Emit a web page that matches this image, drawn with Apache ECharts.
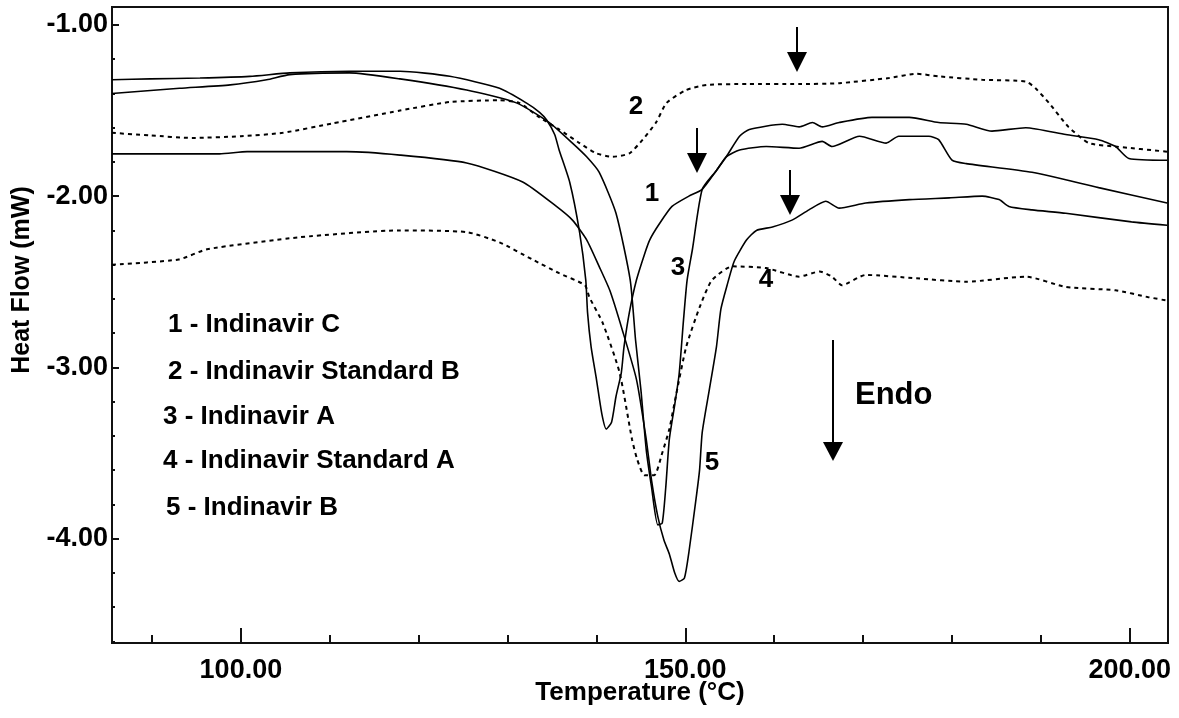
<!DOCTYPE html>
<html>
<head>
<meta charset="utf-8">
<script src="https://cdn.jsdelivr.net/npm/echarts@6.0.0/dist/echarts.min.js"></script>
<style>
html, body { margin: 0; padding: 0; background: #fff; }
#chart { width: 1179px; height: 718px; }
</style>
</head>
<body>
<div id="chart"></div>
<script>
// [temperature (°C), heat flow (mW)]
var indinavirC = [
    [85.5, -1.32], [89.8, -1.315], [95.4, -1.31], [101.0, -1.30], [105.5, -1.28], [112.2, -1.27],
    [117.9, -1.27], [123.5, -1.30], [129.1, -1.37], [132.1, -1.455], [133.6, -1.51], [134.4, -1.555],
    [135.3, -1.64], [135.8, -1.73], [137.0, -1.92], [138.1, -2.21], [138.8, -2.49], [139.0, -2.68],
    [139.4, -2.88], [140.0, -3.07], [140.6, -3.27], [141.1, -3.36], [141.7, -3.32], [142.2, -3.17],
    [142.8, -3.03], [143.1, -2.88], [143.7, -2.68], [144.5, -2.49], [145.4, -2.34], [146.0, -2.255],
    [147.1, -2.16], [148.5, -2.06], [150.4, -2.00], [151.9, -1.96], [153.5, -1.85], [154.6, -1.77],
    [156.1, -1.73], [159.1, -1.71], [162.8, -1.72], [165.4, -1.68], [166.5, -1.71], [169.6, -1.65],
    [172.6, -1.69], [174.0, -1.65], [177.4, -1.65], [178.5, -1.67], [180.0, -1.79], [181.6, -1.81],
    [189.0, -1.86], [196.5, -1.95], [204.2, -2.04]
];
var indinavirStdB = [
    [85.5, -1.63], [89.8, -1.645], [94.5, -1.66], [100.0, -1.65], [104.7, -1.63], [110.3, -1.575],
    [117.9, -1.50], [123.5, -1.45], [129.1, -1.44], [131.3, -1.455], [133.6, -1.54], [135.8, -1.61],
    [138.1, -1.69], [140.0, -1.75], [141.8, -1.77], [143.7, -1.75], [145.2, -1.67], [146.7, -1.57],
    [147.9, -1.455], [150.1, -1.38], [152.4, -1.35], [157.0, -1.345], [162.8, -1.345], [167.3, -1.34],
    [172.9, -1.31], [176.0, -1.285], [178.5, -1.30], [183.4, -1.32], [188.3, -1.33], [189.4, -1.37],
    [190.9, -1.455], [193.1, -1.595], [195.4, -1.69], [198.4, -1.71], [204.2, -1.74]
];
var indinavirA = [
    [85.5, -1.40], [93.1, -1.37], [98.8, -1.35], [102.9, -1.32], [105.5, -1.29], [112.2, -1.28],
    [117.9, -1.315], [125.4, -1.38], [131.0, -1.455], [134.7, -1.57], [137.3, -1.69], [138.9, -1.77],
    [140.3, -1.86], [142.2, -2.10], [143.8, -2.49], [144.4, -2.84], [145.0, -3.13], [145.6, -3.48],
    [146.2, -3.70], [146.9, -3.92], [147.4, -3.91], [147.8, -3.70], [148.2, -3.42], [148.8, -3.22],
    [149.3, -3.04], [149.8, -2.72], [150.2, -2.49], [150.8, -2.31], [151.9, -1.96], [153.5, -1.85],
    [154.6, -1.77], [156.1, -1.65], [157.2, -1.61], [160.9, -1.58], [162.8, -1.595], [164.3, -1.57],
    [165.4, -1.595], [167.3, -1.57], [171.0, -1.54], [175.2, -1.54], [178.5, -1.57], [181.6, -1.58],
    [184.5, -1.62], [188.3, -1.60], [192.8, -1.64], [196.5, -1.67], [198.4, -1.71], [199.9, -1.78],
    [204.2, -1.79]
];
var indinavirStdA = [
    [85.5, -2.40], [93.0, -2.37], [96.2, -2.31], [106.6, -2.24], [117.9, -2.20], [125.4, -2.21],
    [129.1, -2.27], [132.8, -2.37], [135.8, -2.45], [138.7, -2.52], [139.2, -2.59], [140.7, -2.74],
    [142.6, -3.03], [144.0, -3.42], [144.6, -3.54], [145.4, -3.63], [146.5, -3.63], [147.4, -3.50],
    [148.2, -3.36], [149.0, -3.15], [150.1, -2.88], [151.6, -2.65], [153.0, -2.49], [155.3, -2.41],
    [159.1, -2.42], [162.8, -2.47], [165.1, -2.44], [166.5, -2.47], [167.6, -2.52], [170.3, -2.46],
    [176.0, -2.48], [181.6, -2.50], [188.3, -2.47], [192.8, -2.53], [198.4, -2.55], [202.1, -2.59],
    [204.2, -2.61]
];
var indinavirB = [
    [85.5, -1.753], [97.6, -1.753], [100.7, -1.74], [111.9, -1.74], [117.9, -1.76], [125.4, -1.806],
    [131.7, -1.917], [135.5, -2.06], [137.3, -2.14], [138.9, -2.255], [140.3, -2.41], [141.5, -2.55],
    [142.9, -2.78], [144.5, -3.07], [145.6, -3.42], [146.2, -3.66], [146.9, -3.87], [147.6, -4.01],
    [148.2, -4.09], [148.8, -4.20], [149.3, -4.25], [149.9, -4.23], [150.4, -4.08], [151.2, -3.77],
    [151.6, -3.60], [151.9, -3.38], [152.7, -3.13], [153.5, -2.88], [154.0, -2.66], [154.7, -2.52],
    [155.5, -2.38], [156.9, -2.255], [158.0, -2.20], [159.8, -2.18], [162.0, -2.14], [163.9, -2.08],
    [165.8, -2.03], [167.3, -2.07], [170.3, -2.04], [175.2, -2.02], [179.7, -2.01], [183.4, -2.00],
    [185.3, -2.02], [186.4, -2.06], [189.0, -2.08], [192.8, -2.10], [200.2, -2.15], [204.2, -2.17]
];

var xTicks = [90, 100, 110, 120, 130, 140, 150, 160, 170, 180, 190, 200];
var xLabels = [100, 150, 200];
var yTicks = [-1.0, -1.2, -1.4, -1.6, -1.8, -2.0, -2.2, -2.4, -2.6, -2.8, -3.0, -3.2, -3.4, -3.6, -3.8, -4.0, -4.2, -4.4, -4.6];
var yLabels = [-1, -2, -3, -4];
var legendLines = [
    '1 - Indinavir C',
    '2 - Indinavir Standard B',
    '3 - Indinavir A',
    '4 - Indinavir Standard A',
    '5 - Indinavir B'
];

var FONT = '"Liberation Sans", Arial, sans-serif';

function arrow(x, yTop, yHead, yTip) {
    return {
        type: 'group',
        children: [
            { type: 'line', shape: { x1: x, y1: yTop, x2: x, y2: yHead + 2 }, style: { stroke: '#000', lineWidth: 2 } },
            { type: 'polygon', shape: { points: [[x - 10, yHead], [x + 10, yHead], [x, yTip]] }, style: { fill: '#000' } }
        ]
    };
}

function label(text, x, y, size, align) {
    return {
        type: 'text',
        x: x,
        y: y,
        style: {
            text: text,
            font: 'bold ' + size + 'px ' + FONT,
            fill: '#000',
            align: align || 'left',
            verticalAlign: 'middle'
        }
    };
}

var chart = echarts.init(document.getElementById('chart'));

var legendX = [168, 168, 163, 163, 166];
var legendY = [325, 372, 417, 461, 508];
var graphics = legendLines.map(function (t, i) {
    return label(t, legendX[i], legendY[i], 26);
});
graphics.push(label('1', 652, 194, 26, 'center'));
graphics.push(label('2', 636, 107, 26, 'center'));
graphics.push(label('3', 678, 268, 26, 'center'));
graphics.push(label('4', 766, 280, 26, 'center'));
graphics.push(label('5', 712, 463, 26, 'center'));
graphics.push(label('Endo', 855, 395, 31));
graphics.push(arrow(797, 27, 52, 72));
graphics.push(arrow(697, 128, 153, 173));
graphics.push(arrow(790, 170, 195, 215));
graphics.push(arrow(833, 340, 442, 461));
graphics.push({
    type: 'text',
    x: 22,
    y: 280,
    rotation: Math.PI / 2,
    style: {
        text: 'Heat Flow (mW)',
        font: 'bold 25px ' + FONT,
        fill: '#000',
        align: 'center',
        verticalAlign: 'middle'
    }
});
graphics.push(label('Temperature (°C)', 640, 693, 26, 'center'));

function makeSeries(name, data, dotted) {
    return {
        name: name,
        type: 'line',
        data: data,
        showSymbol: false,
        smooth: 0.2,
        xAxisIndex: 0,
        yAxisIndex: 0,
        lineStyle: {
            color: '#000',
            width: dotted ? 2 : 1.6,
            type: dotted ? [4, 4] : 'solid'
        }
    };
}

chart.setOption({
    animation: false,
    backgroundColor: '#fff',
    grid: {
        left: 112, right: 11, top: 7, bottom: 75,
        show: true,
        borderColor: '#111',
        borderWidth: 2
    },
    xAxis: [
        {
            type: 'value',
            min: 85.5,
            max: 204.3,
            position: 'bottom',
            axisLine: { lineStyle: { color: '#111', width: 2 } },
            axisTick: { inside: true, length: 8, customValues: xTicks, lineStyle: { color: '#111', width: 2 } },
            axisLabel: {
                customValues: xLabels,
                formatter: function (v) { return v.toFixed(2); },
                color: '#000',
                fontFamily: FONT,
                fontWeight: 'bold',
                fontSize: 27,
                margin: 14
            },
            splitLine: { show: false }
        },
        {
            type: 'value',
            min: 85.5,
            max: 204.3,
            position: 'bottom',
            axisLine: { show: false },
            axisTick: { inside: true, length: 15, customValues: xLabels, lineStyle: { color: '#111', width: 2 } },
            axisLabel: { show: false },
            splitLine: { show: false }
        }
    ],
    yAxis: [
        {
            type: 'value',
            min: -4.61,
            max: -0.895,
            position: 'left',
            axisLine: { lineStyle: { color: '#111', width: 2 } },
            axisTick: { inside: true, length: 3, customValues: yTicks, lineStyle: { color: '#111', width: 2 } },
            axisLabel: {
                customValues: yLabels,
                formatter: function (v) { return v.toFixed(2); },
                color: '#000',
                fontFamily: FONT,
                fontWeight: 'bold',
                fontSize: 27,
                margin: 4
            },
            splitLine: { show: false }
        },
        {
            type: 'value',
            min: -4.61,
            max: -0.895,
            position: 'left',
            axisLine: { show: false },
            axisTick: { inside: true, length: 7, customValues: yLabels, lineStyle: { color: '#111', width: 2 } },
            axisLabel: { show: false },
            splitLine: { show: false }
        }
    ],
    series: [
        makeSeries('Indinavir C', indinavirC, false),
        makeSeries('Indinavir Standard B', indinavirStdB, true),
        makeSeries('Indinavir A', indinavirA, false),
        makeSeries('Indinavir Standard A', indinavirStdA, true),
        makeSeries('Indinavir B', indinavirB, false)
    ],
    graphic: graphics
});
</script>
</body>
</html>
